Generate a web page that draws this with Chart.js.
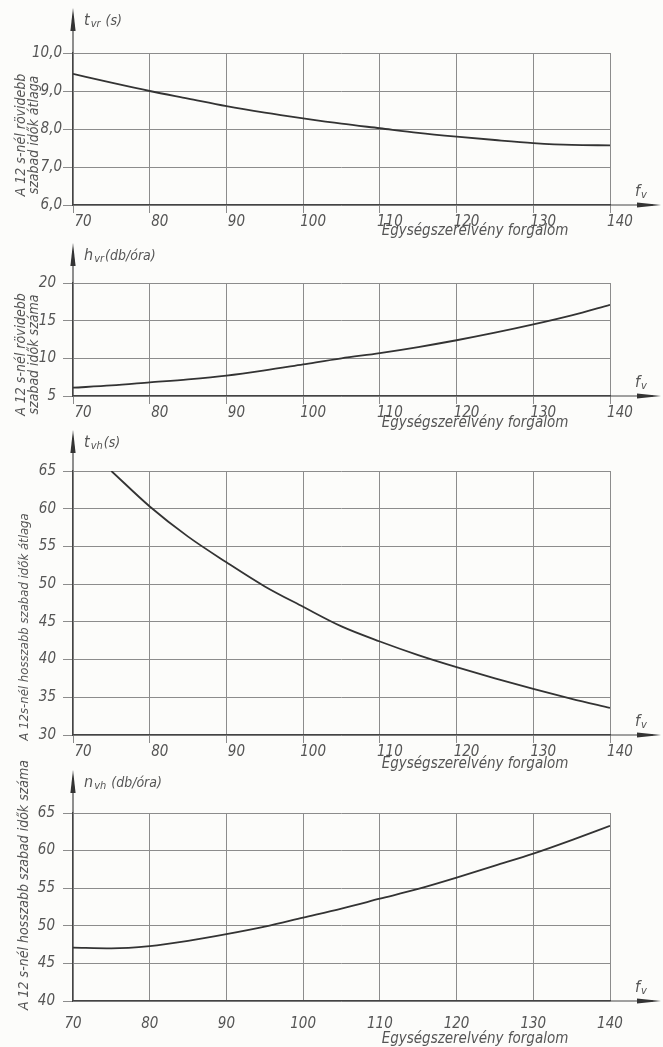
<!DOCTYPE html>
<html>
<head>
<meta charset="utf-8">
<script src="https://cdn.jsdelivr.net/npm/chart.js@4.4.1/dist/chart.umd.min.js"></script>
<style>
    body { margin: 0; background: #fcfcfa; width: 663px; height: 1047px; overflow: hidden; }
    .box { position: absolute; left: 0; width: 663px; }
</style>
</head>
<body>
<div class="box" style="top:0;height:240px"><canvas id="c1"></canvas></div>
<div class="box" style="top:240px;height:190px"><canvas id="c2"></canvas></div>
<div class="box" style="top:430px;height:345px"><canvas id="c3"></canvas></div>
<div class="box" style="top:745px;height:302px"><canvas id="c4"></canvas></div>
<script>
// x values (Egységszerelvény forgalom)
const fv = [70, 75, 80, 85, 90, 95, 100, 105, 110, 115, 120, 125, 130, 135, 140];
const fvFrom75 = [75, 80, 85, 90, 95, 100, 105, 110, 115, 120, 125, 130, 135, 140];

// series
const tvr = [9.45, 9.22, 9.0, 8.8, 8.6, 8.43, 8.28, 8.14, 8.02, 7.9, 7.8, 7.71, 7.63, 7.58, 7.57];
const hvr = [6.1, 6.4, 6.8, 7.2, 7.7, 8.4, 9.2, 10.0, 10.7, 11.5, 12.4, 13.4, 14.5, 15.7, 17.1];
const tvh = [65, 60.3, 56.3, 52.9, 49.7, 47.0, 44.4, 42.4, 40.6, 39.0, 37.5, 36.1, 34.8, 33.6];
const nvh = [47.1, 47.0, 47.3, 48.0, 48.9, 49.9, 51.1, 52.3, 53.6, 54.9, 56.4, 58.0, 59.6, 61.4, 63.3];

// tick labels
const fvTicks = ['70', '80', '90', '100', '110', '120', '130', '140'];
const tvrTicks = ['6,0', '7,0', '8,0', '9,0', '10,0'];
const hvrTicks = ['5', '10', '15', '20'];
const tvhTicks = ['30', '35', '40', '45', '50', '55', '60', '65'];
const nvhTicks = ['40', '45', '50', '55', '60', '65'];

const FONT = "'Liberation Sans Narrow', 'DejaVu Sans Condensed', sans-serif";
const INK = '#555';
const GRID = '#8c8c8c';
const LINE = '#333';

// arrows, titles and axis captions drawn over the chart
const decor = {
    id: 'decor',
    afterDraw(chart, args, o) {
        const ctx = chart.ctx;
        const a = chart.chartArea;
        ctx.save();
        ctx.strokeStyle = '#444';
        ctx.fillStyle = '#333';
        ctx.lineWidth = 1.2;

        // y axis going up into an arrow
        const tipY = a.top - o.arrowUp;
        ctx.beginPath();
        ctx.moveTo(a.left, a.top);
        ctx.lineTo(a.left, tipY + 8);
        ctx.stroke();
        ctx.beginPath();
        ctx.moveTo(a.left, tipY);
        ctx.lineTo(a.left - 2.6, tipY + 23);
        ctx.lineTo(a.left + 2.6, tipY + 23);
        ctx.closePath();
        ctx.fill();

        // x axis going right into an arrow
        const tipX = a.right + 51;
        ctx.beginPath();
        ctx.moveTo(a.right, a.bottom);
        ctx.lineTo(tipX - 8, a.bottom);
        ctx.stroke();
        ctx.beginPath();
        ctx.moveTo(tipX, a.bottom);
        ctx.lineTo(tipX - 24, a.bottom - 2.6);
        ctx.lineTo(tipX - 24, a.bottom + 2.6);
        ctx.closePath();
        ctx.fill();

        ctx.fillStyle = INK;
        ctx.textBaseline = 'alphabetic';
        ctx.textAlign = 'left';

        // quantity name with subscript next to the y arrow
        let px = a.left + 11;
        const py = tipY + 17;
        ctx.font = 'italic 16px ' + FONT;
        ctx.fillText(o.name, px, py);
        px += ctx.measureText(o.name).width + 1;
        ctx.font = 'italic 11px ' + FONT;
        ctx.fillText(o.sub, px, py + 2);
        px += ctx.measureText(o.sub).width + 1;
        ctx.font = 'italic 14px ' + FONT;
        ctx.fillText(o.unit, px, py);

        // f_v next to the x arrow
        px = a.right + 25;
        ctx.font = 'italic 16px ' + FONT;
        ctx.fillText('f', px, a.bottom - 9);
        ctx.font = 'italic 11px ' + FONT;
        ctx.fillText('v', px + 6, a.bottom - 7);

        // x axis caption
        ctx.textAlign = 'center';
        ctx.font = 'italic 15px ' + FONT;
        ctx.fillText('Egységszerelvény forgalom', chart.scales.x.getPixelForValue(122.4), a.bottom + o.xCapDy);

        // rotated y axis caption
        ctx.translate(o.yCapX, (a.top + a.bottom) / 2 + o.yCapDy);
        ctx.rotate(-Math.PI / 2);
        ctx.font = 'italic ' + o.yCapSize + 'px ' + FONT;
        o.yCap.forEach((line, i) => {
            ctx.fillText(line, 0, i * 13);
        });
        ctx.restore();
    }
};

function makeChart(id, xs, ys, yMin, yMax, yStep, yLabels, d) {
    const points = xs.map((x, i) => ({ x: x, y: ys[i] }));
    return new Chart(document.getElementById(id), {
        type: 'line',
        data: {
            datasets: [{
                data: points,
                borderColor: LINE,
                borderWidth: 1.8,
                pointRadius: 0,
                tension: 0.4,
                cubicInterpolationMode: 'monotone',
                fill: false
            }]
        },
        options: {
            responsive: true,
            maintainAspectRatio: false,
            animation: false,
            layout: { padding: { top: d.padTop, right: 53, left: 0, bottom: 0 } },
            plugins: {
                legend: { display: false },
                tooltip: { enabled: false },
                decor: d
            },
            scales: {
                x: {
                    type: 'linear',
                    min: 70,
                    max: 140,
                    afterFit: s => { s.height = d.xH; s.paddingLeft = 0; s.paddingRight = 0; },
                    grid: { color: GRID, lineWidth: 1, drawTicks: d.xTick > 0, tickLength: d.xTick },
                    border: { color: '#444', width: 1.2 },
                    ticks: {
                        stepSize: 10,
                        maxRotation: 0,
                        padding: d.xPad,
                        labelOffset: d.xLabelOffset,
                        color: INK,
                        font: { family: FONT, size: 15, style: 'italic' },
                        callback: (v, i) => fvTicks[i]
                    }
                },
                y: {
                    min: yMin,
                    max: yMax,
                    afterFit: s => { s.width = 73; s.paddingTop = 0; s.paddingBottom = 0; },
                    grid: { color: GRID, lineWidth: 1, tickLength: 10 },
                    border: { color: '#444', width: 1.2 },
                    ticks: {
                        stepSize: yStep,
                        padding: d.yPad,
                        color: INK,
                        font: { family: FONT, size: 15, style: 'italic' },
                        callback: (v, i) => yLabels[i]
                    }
                }
            }
        },
        plugins: [decor]
    });
}

makeChart('c1', fv, tvr, 6, 10, 1, tvrTicks, {
    padTop: 53, xH: 35, xTick: 8, xPad: 0, xLabelOffset: 10, yPad: 1,
    arrowUp: 45, name: 't', sub: 'vr', unit: ' (s)', xCapDy: 30,
    yCap: ['A 12 s-nél rövidebb', 'szabad idők átlaga'], yCapX: 25, yCapDy: 6, yCapSize: 14
});
makeChart('c2', fv, hvr, 5, 20, 5, hvrTicks, {
    padTop: 43, xH: 34, xTick: 8, xPad: 0, xLabelOffset: 10, yPad: 7,
    arrowUp: 40, name: 'h', sub: 'vr', unit: '(db/óra)', xCapDy: 31,
    yCap: ['A 12 s-nél rövidebb', 'szabad idők száma'], yCapX: 25, yCapDy: 15, yCapSize: 14
});
makeChart('c3', fvFrom75, tvh, 30, 65, 5, tvhTicks, {
    padTop: 41, xH: 40, xTick: 8, xPad: 0, xLabelOffset: 10, yPad: 7,
    arrowUp: 41, name: 't', sub: 'vh', unit: '(s)', xCapDy: 33,
    yCap: ['A 12s-nél hosszabb szabad idők átlaga'], yCapX: 28, yCapDy: 24, yCapSize: 13
});
makeChart('c4', fv, nvh, 40, 65, 5, nvhTicks, {
    padTop: 68, xH: 46, xTick: 0, xPad: 14, xLabelOffset: 0, yPad: 8,
    arrowUp: 43, name: 'n', sub: 'vh', unit: ' (db/óra)', xCapDy: 42,
    yCap: ['A 12 s-nél hosszabb szabad idők száma'], yCapX: 28, yCapDy: -22, yCapSize: 14
});
</script>
</body>
</html>
